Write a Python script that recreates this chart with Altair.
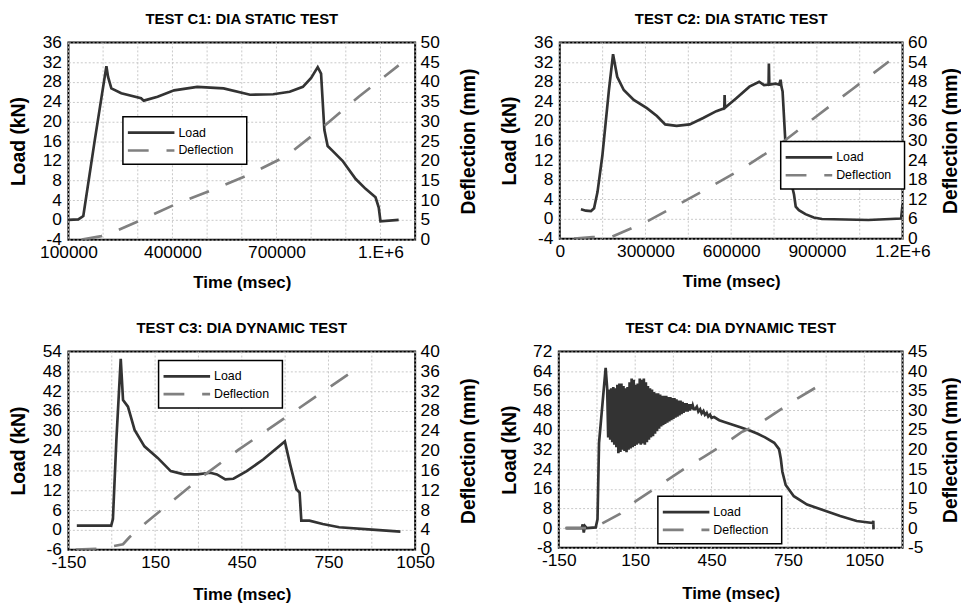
import altair as alt
import pandas as pd

# ---------------- data ----------------
SERIES = ["Load", "Deflection"]
COLORS = ["#333333", "#808080"]
DEFL_DASH = [21, 18]

# C1
c1_title = "TEST C1: DIA STATIC TEST"
c1_load_t = [100000, 128600, 142900, 176200, 209500, 214300, 223800, 252400, 309500, 317100,
             357100, 404800, 471400, 547600, 623800, 690500, 738100, 776200, 800000, 819000,
             828600, 838100, 847600, 861900, 890500, 928600, 957100, 985700, 995000, 1000000, 1052400]
c1_load = [0.0, 0.1, 0.8, 16.3, 31.2, 29.0, 26.7, 25.7, 24.7, 24.2,
           25.0, 26.3, 27.0, 26.7, 25.4, 25.5, 26.0, 27.0, 28.8, 31.0,
           29.7, 18.3, 15.0, 14.0, 12.0, 8.3, 6.3, 4.6, 2.5, -0.3, 0.0]
c1_defl_t = [138100, 195200, 242900, 300000, 409500, 514300, 623800, 728600, 833300, 938100, 1052400]
c1_defl = [0.0, 0.9, 2.4, 4.6, 9.0, 12.6, 16.6, 21.2, 28.5, 36.3, 44.2]
c1_xdom = [100000, 1100000]
c1_xgrid = [100000, 200000, 300000, 400000, 500000, 600000, 700000, 800000, 900000, 1000000, 1100000]
c1_xlab_vals = [100000, 400000, 700000, 1000000]
c1_xlab_text = ["100000", "400000", "700000", "1.E+6"]
c1_yl = [-4, 0, 4, 8, 12, 16, 20, 24, 28, 32, 36]
c1_yr = [0, 5, 10, 15, 20, 25, 30, 35, 40, 45, 50]

# C2
c2_title = "TEST C2: DIA STATIC TEST"
c2_load_t = [74000, 91000, 109000, 120000, 132000, 149000, 172000, 186500, 201000, 224000,
             259000, 305000, 340000, 369000, 409000, 455000, 502000, 548000, 576000, 577000,
             578500, 617000, 664000, 698000, 715000, 731000, 732000, 733500, 756000, 768000,
             773000, 776000, 780000, 790000, 800000, 812000, 820000, 826000, 837000, 860000,
             889000, 918000, 1000000, 1080000, 1195000, 1200000]
c2_load = [2.0, 1.7, 1.6, 2.2, 5.5, 12.9, 26.3, 33.6, 29.0, 26.3,
           24.3, 22.6, 21.0, 19.3, 19.0, 19.3, 20.6, 22.0, 22.6, 25.3,
           22.7, 24.6, 27.0, 28.0, 27.3, 27.4, 31.7, 27.4, 27.6, 27.4,
           28.4, 27.0, 26.0, 15.5, 10.2, 7.0, 5.0, 2.5, 1.8, 1.0,
           0.3, 0.0, -0.1, -0.2, 0.1, 3.0]
c2_defl_t = [50000, 115000, 178000, 311000, 501850, 634700, 761950, 892000, 1024000, 1152000]
c2_defl = [0.0, 0.5, 0.4, 5.5, 14.6, 21.2, 28.3, 37.0, 45.7, 54.2]
c2_xdom = [0, 1200000]
c2_xgrid = [0, 150000, 300000, 450000, 600000, 750000, 900000, 1050000, 1200000]
c2_xlab_vals = [0, 300000, 600000, 900000, 1200000]
c2_xlab_text = ["0", "300000", "600000", "900000", "1.2E+6"]
c2_yl = [-4, 0, 4, 8, 12, 16, 20, 24, 28, 32, 36]
c2_yr = [0, 6, 12, 18, 24, 30, 36, 42, 48, 54, 60]

# C3
c3_title = "TEST C3: DIA DYNAMIC TEST"
c3_load_t = [-121, -2, 4, 16, 31, 39, 56, 79, 113, 159, 204, 250, 296, 341, 364, 393, 421,
             467, 524, 599, 616, 639, 650, 656, 684, 730, 787, 901, 999]
c3_load = [1.3, 1.3, 3.3, 27.3, 51.8, 39.3, 37.3, 30.3, 25.3, 21.8, 17.8, 16.8, 16.8, 17.3,
           16.8, 15.3, 15.5, 17.8, 21.3, 26.8, 20.3, 12.3, 11.3, 2.8, 2.8, 1.8, 0.8, 0.1, -0.5]
c3_defl_t = [-125, -53, 4, 39, 61, 119, 307, 439, 564, 696, 831]
c3_defl = [0.0, 0.2, 0.7, 1.1, 2.5, 5.5, 14.5, 20.2, 25.2, 30.5, 35.9]
c3_xdom = [-150, 1050]
c3_xgrid = [-150, 0, 150, 300, 450, 600, 750, 900, 1050]
c3_xlab_vals = [-150, 150, 450, 750, 1050]
c3_xlab_text = ["-150", "150", "450", "750", "1050"]
c3_yl = [-6, 0, 6, 12, 18, 24, 30, 36, 42, 48, 54]
c3_yr = [0, 4, 8, 12, 16, 20, 24, 28, 32, 36, 40]

# C4 (load: pre-impact, oscillating band, decay)
c4_title = "TEST C4: DIA DYNAMIC TEST"
c4_load_t = [-121, -60, -56, -52, -47, -40, -5, 2, 8, 34,
             40, 44, 48, 52, 56, 60, 64, 68, 72, 76, 80, 84, 88, 92, 96, 100, 104, 108,
             112, 116, 120, 124, 128, 132, 136, 140, 144, 148, 152, 156, 160, 164, 168, 172,
             176, 180, 184, 188, 192, 196, 200, 204, 208, 212, 216, 220, 224, 228, 232, 236,
             240, 244, 248, 252, 256, 260, 264, 268, 272, 276, 280, 284, 288, 292, 296, 300,
             304, 308, 312, 316, 320, 324, 328, 332, 336, 340, 344, 348, 352, 356, 360, 364,
             368, 372, 376, 380,
             385, 392, 398, 405, 411, 418, 424, 431, 437, 444, 450, 460, 480, 500, 530, 560,
             600, 631, 660, 696, 715, 722, 728, 741, 773, 825, 890, 955, 1020, 1084, 1085, 1086]
c4_load = [0.0, 0.0, 1.5, -1.8, 0.8, 0.0, 0.3, 3.6, 34.8, 65.4,
           57.0, 37.0, 56.5, 36.0, 57.0, 35.0, 57.5, 34.0, 57.0, 33.0, 58.5, 30.5, 59.0, 31.0,
           59.0, 32.0, 58.0, 31.5, 57.0, 31.0, 57.5, 32.0, 59.5, 32.5, 61.0, 33.0, 60.5, 33.5,
           58.5, 34.0, 59.0, 34.5, 61.0, 34.0, 60.5, 34.5, 61.0, 34.0, 59.5, 35.0, 58.0, 36.0,
           57.0, 37.0, 56.5, 37.5, 55.5, 38.5, 55.0, 39.5, 55.0, 40.5, 54.5, 41.5, 54.0, 42.0,
           54.0, 42.5, 54.0, 43.0, 53.5, 43.5, 53.5, 44.0, 53.0, 44.5, 53.0, 45.0, 52.5, 45.5,
           52.0, 46.0, 52.0, 46.5, 51.5, 47.0, 51.0, 47.5, 51.0, 47.5, 50.5, 48.0, 50.5, 48.5,
           50.0, 48.5,
           48.5, 49.5, 47.5, 48.5, 46.8, 47.8, 46.2, 47.0, 45.5, 46.3, 45.0, 45.3, 44.0, 43.3,
           42.3, 41.2, 39.8, 38.5, 37.0, 34.8, 32.2, 28.2, 23.0, 17.6, 13.0, 9.6, 7.3, 4.9,
           2.9, 2.1, 3.0, -0.5]
c4_defl_t = [-125, -5, 18, 90, 151, 352, 423, 498, 566, 637, 786, 900]
c4_defl = [0.0, 0.0, 1.1, 3.6, 6.8, 15.5, 18.3, 21.3, 24.4, 26.6, 33.0, 37.4]
c4_xdom = [-150, 1200]
c4_xgrid = [-150, 0, 150, 300, 450, 600, 750, 900, 1050, 1200]
c4_xlab_vals = [-150, 150, 450, 750, 1050]
c4_xlab_text = ["-150", "150", "450", "750", "1050"]
c4_yl = [-8, 0, 8, 16, 24, 32, 40, 48, 56, 64, 72]
c4_yr = [-5, 0, 5, 10, 15, 20, 25, 30, 35, 40, 45]

# ---------------- styling ----------------
FONT = "Liberation Sans"
TICK_FS = 17.5
LEG_W, LEG_H = 125, 48
GRID_COLOR = "#c8c8c8"
LINE_W = 2.7


def label_expr(vals, texts):
    expr = "''"
    for v, t in reversed(list(zip(vals, texts))):
        expr = f"datum.value == {v} ? '{t}' : ({expr})"
    return expr


def legend_layers(lx, ly):
    one = pd.DataFrame({"s": [SERIES[0]]})
    two = pd.DataFrame({"s": [SERIES[1]]})
    box = alt.Chart(one).mark_rect(fill="white", stroke="black", strokeWidth=1.5).encode(
        x=alt.value(lx), x2=alt.value(lx + LEG_W), y=alt.value(ly), y2=alt.value(ly + LEG_H))
    r1 = alt.Chart(one).mark_rule(color=COLORS[0], strokeWidth=LINE_W).encode(
        x=alt.value(lx + 5), x2=alt.value(lx + 52), y=alt.value(ly + 16))
    r2 = alt.Chart(two).mark_rule(color=COLORS[1], strokeWidth=LINE_W, strokeDash=DEFL_DASH).encode(
        x=alt.value(lx + 5), x2=alt.value(lx + 52), y=alt.value(ly + 34))
    t1 = alt.Chart(one).mark_text(align="left", baseline="middle", font=FONT, fontSize=12.5,
                                  color="black").encode(
        x=alt.value(lx + 56), y=alt.value(ly + 16), text="s:N")
    t2 = alt.Chart(two).mark_text(align="left", baseline="middle", font=FONT, fontSize=12.5,
                                  color="black").encode(
        x=alt.value(lx + 56), y=alt.value(ly + 34), text="s:N")
    return [box, r1, r2, t1, t2]


def panel(title, lt, lv, dt, dv, xdom, xgrid, xlv, xlt, yl, yr, w, h, legx, legy,
          ltx=-50, rtx=54, bty=43):
    ld = pd.DataFrame({"t": lt, "v": lv, "i": range(len(lt))})
    dd = pd.DataFrame({"t": dt, "v": dv, "i": range(len(dt))})
    gd = pd.DataFrame({"g": xgrid})
    xscale = alt.Scale(domain=xdom, nice=False, zero=False)
    grid = alt.Chart(gd).mark_rule(color=GRID_COLOR, strokeDash=[2, 2], strokeWidth=1).encode(
        x=alt.X(
            "g:Q", scale=xscale,
            axis=alt.Axis(
                values=xlv, labelExpr=label_expr(xlv, xlt), title="Time (msec)",
                titleFontSize=17, titleX=w / 2, titleY=bty, titleAlign="center",
                titleBaseline="middle", labelPadding=4, grid=False,
                labelOverlap=False, labelFlush=False, labelBound=False,
            ),
        )
    )
    load = alt.Chart(ld).mark_line(strokeWidth=LINE_W, clip=True, color=COLORS[0]).encode(
        x=alt.X("t:Q", scale=xscale),
        y=alt.Y(
            "v:Q",
            scale=alt.Scale(domain=[yl[0], yl[-1]], nice=False, zero=False),
            axis=alt.Axis(
                orient="left", values=yl, labelExpr="'' + datum.value", title="Load (kN)",
                titleFontSize=19.5, titleX=ltx, titleY=h / 2, titleAngle=270,
                titleAlign="center", titleBaseline="middle", labelPadding=7, grid=True,
                labelOverlap=False, labelFlush=False,
            ),
        ),
        order="i:Q",
    )
    defl = alt.Chart(dd).mark_line(strokeWidth=LINE_W, clip=True, color=COLORS[1],
                                   strokeDash=DEFL_DASH).encode(
        x=alt.X("t:Q", scale=xscale),
        y=alt.Y(
            "v:Q",
            scale=alt.Scale(domain=[yr[0], yr[-1]], nice=False, zero=False),
            axis=alt.Axis(
                orient="right", values=yr, labelExpr="'' + datum.value", title="Deflection (mm)",
                titleFontSize=19.5, titleX=rtx, titleY=h / 2, titleAngle=270,
                titleAlign="center", titleBaseline="middle", labelPadding=5, grid=False,
                labelOverlap=False, labelFlush=False,
            ),
        ),
        order="i:Q",
    )
    return (
        alt.layer(grid, load, defl, *legend_layers(legx, legy))
        .resolve_scale(y="independent")
        .properties(width=w, height=h, title=alt.TitleParams(title))
    )


p1 = panel(c1_title, c1_load_t, c1_load, c1_defl_t, c1_defl, c1_xdom, c1_xgrid,
           c1_xlab_vals, c1_xlab_text, c1_yl, c1_yr, 350, 199, 55, 75,
           ltx=-50, rtx=54, bty=43)
p2 = panel(c2_title, c2_load_t, c2_load, c2_defl_t, c2_defl, c2_xdom, c2_xgrid,
           c2_xlab_vals, c2_xlab_text, c2_yl, c2_yr, 346, 198, 223, 100,
           ltx=-51, rtx=48, bty=43)
p3 = panel(c3_title, c3_load_t, c3_load, c3_defl_t, c3_defl, c3_xdom, c3_xgrid,
           c3_xlab_vals, c3_xlab_text, c3_yl, c3_yr, 350, 200, 91, 9,
           ltx=-50, rtx=54, bty=45)
p4 = panel(c4_title, c4_load_t, c4_load, c4_defl_t, c4_defl, c4_xdom, c4_xgrid,
           c4_xlab_vals, c4_xlab_text, c4_yl, c4_yr, 347, 198, 100, 146,
           ltx=-50, rtx=48, bty=46)

row1 = alt.hconcat(p1, p2, spacing=19)
row2 = alt.hconcat(p3, p4, spacing=19)

chart = (
    alt.vconcat(row1, row2, spacing=29)
    .properties(padding=0, background="white")
    .configure_view(stroke="black", strokeWidth=2)
    .configure_axis(
        labelFont=FONT, labelFontSize=TICK_FS, labelColor="black",
        titleFont=FONT, titleFontWeight="bold", titleColor="black",
        ticks=False, domain=False, labelOverlap=False, labelFlush=False,
        gridColor=GRID_COLOR, gridDash=[2, 2], gridWidth=1,
    )
    .configure_title(font=FONT, fontSize=15, fontWeight="bold", color="black",
                     anchor="middle", offset=7)
)

chart.save("out.html", embed_options={"renderer": "svg", "actions": False})
